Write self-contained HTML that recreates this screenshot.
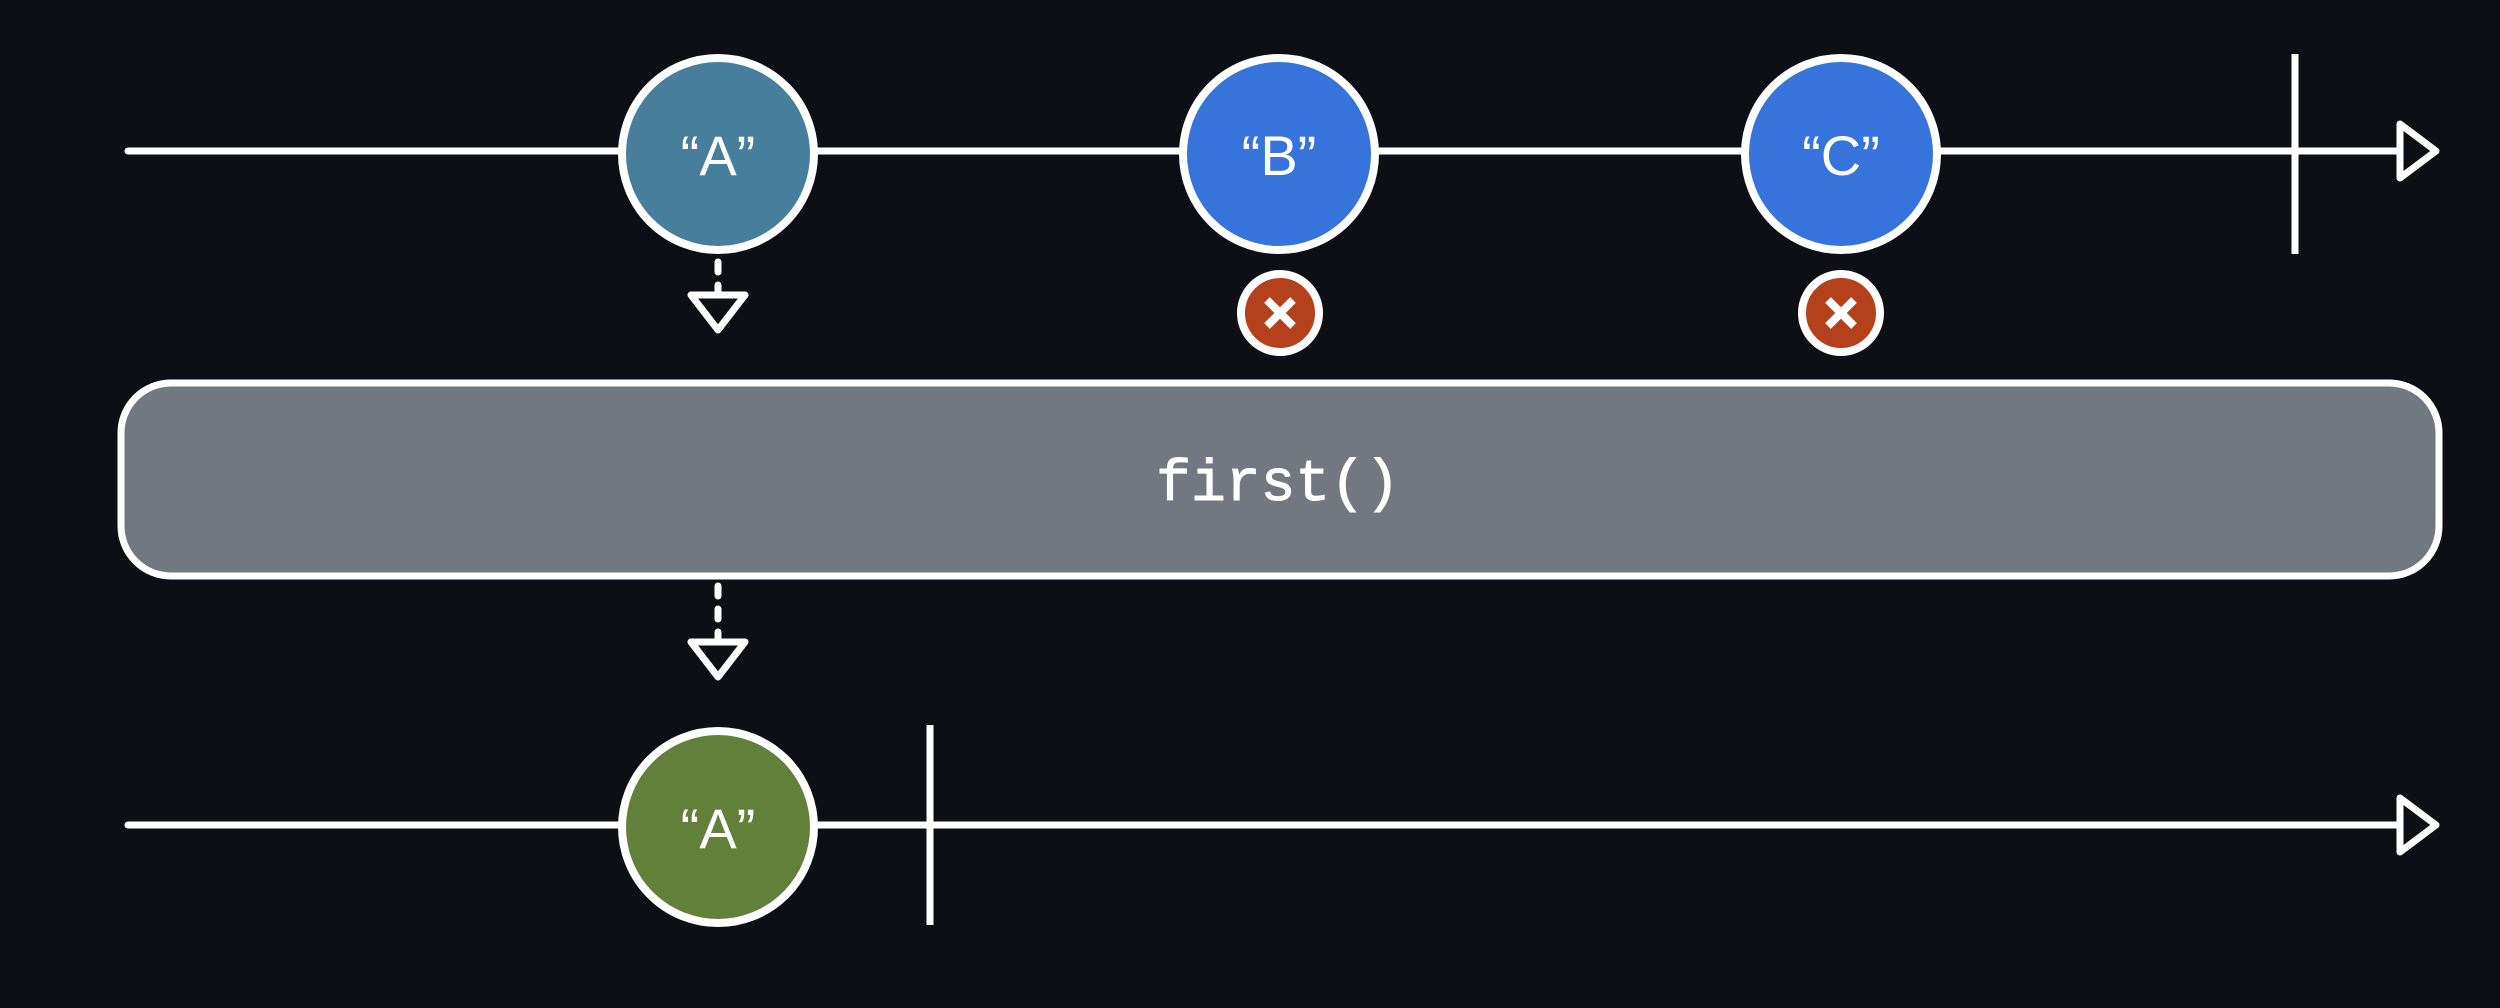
<!DOCTYPE html>
<html><head><style>
html,body{margin:0;padding:0;background:#0e0f14;}
svg{display:block;}
</style></head><body>
<svg width="2500" height="1008" viewBox="0 0 2500 1008" xmlns="http://www.w3.org/2000/svg">
<rect width="2500" height="1008" fill="#0e0f14"/>
<g stroke="#fff" stroke-width="7" stroke-linecap="round" fill="none">
<line x1="128" y1="151" x2="2400" y2="151"/>
<line x1="2295" y1="54" x2="2295" y2="254" stroke-linecap="butt"/>
<polygon points="2400,124 2436,151 2400,178" fill="#0e0f14" stroke-linejoin="round"/>
<line x1="128" y1="825" x2="2400" y2="825"/>
<line x1="930" y1="725" x2="930" y2="925" stroke-linecap="butt"/>
<polygon points="2400,798 2436,825 2400,852" fill="#0e0f14" stroke-linejoin="round"/>
<line x1="718" y1="262" x2="718" y2="272"/>
<line x1="718" y1="285" x2="718" y2="295"/>
<polygon points="691,295 745,295 718,330" fill="#0e0f14" stroke-linejoin="round"/>
<line x1="718" y1="586" x2="718" y2="596"/>
<line x1="718" y1="609" x2="718" y2="619"/>
<line x1="718" y1="632" x2="718" y2="642"/>
<polygon points="691,642 745,642 718,677" fill="#0e0f14" stroke-linejoin="round"/>
</g>
<rect x="121" y="383" width="2318" height="193" rx="50" fill="#737780" stroke="#fff" stroke-width="7"/>
<text x="1278" y="500" font-family="Liberation Mono, monospace" font-size="58" fill="#fff" stroke="#fff" stroke-width="1" text-anchor="middle">first()</text>
<g stroke="#fff" stroke-width="8">
<circle cx="718" cy="154" r="96" fill="#467e9b"/>
<circle cx="1279" cy="154" r="96" fill="#3674dc"/>
<circle cx="1841" cy="154" r="96" fill="#3674dc"/>
<circle cx="718" cy="827" r="96" fill="#62803a"/>
<circle cx="1280" cy="313" r="39" fill="#b5401c"/>
<circle cx="1841" cy="313" r="39" fill="#b5401c"/>
</g>
<g stroke="#fff" stroke-width="8">
<line x1="1267" y1="300" x2="1293" y2="326"/><line x1="1293" y1="300" x2="1267" y2="326"/>
<line x1="1828" y1="300" x2="1854" y2="326"/><line x1="1854" y1="300" x2="1828" y2="326"/>
</g>
<g font-family="Liberation Sans, sans-serif" font-size="56" fill="#fff" text-anchor="middle">
<text x="718" y="175">“A”</text>
<text x="1279" y="175">“B”</text>
<text x="1841" y="175">“C”</text>
<text x="718" y="848">“A”</text>
</g>
</svg>
</body></html>
